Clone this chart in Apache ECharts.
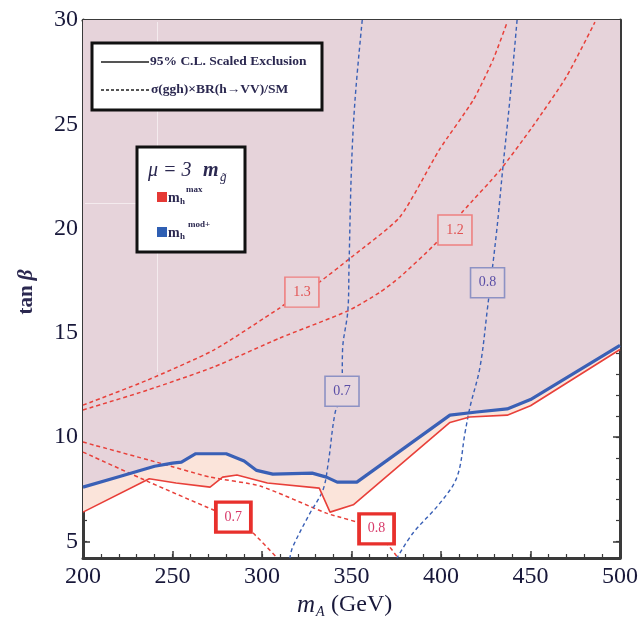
<!DOCTYPE html>
<html><head><meta charset="utf-8">
<script src="https://cdn.jsdelivr.net/npm/echarts@6/dist/echarts.min.js"></script>
<style>html,body{margin:0;padding:0;background:#fff}#c{width:643px;height:625px}</style>
</head><body><div id="c"></div>
<script>
// ---- axis ticks ----
const mATicks = [200, 250, 300, 350, 400, 450, 500];
const mAMinor = [200,210,220,230,240,250,260,270,280,290,300,310,320,330,340,350,360,370,380,390,400,410,420,430,440,450,460,470,480,490,500];
const tanbTicks = [5, 10, 15, 20, 25, 30];
const tanbMinor = [5,6,7,8,9,10,11,12,13,14,15,16,17,18,19,20,21,22,23,24,25,26,27,28,29,30];

// ---- 95% CL scaled exclusion (solid) ----
const blueExclM = [200, 220, 240, 250, 255, 263, 280, 290, 297, 306, 328, 336, 342, 353, 405, 420, 437, 450, 500];
const blueExclT = [7.6, 8.1, 8.6, 8.75, 8.8, 9.2, 9.2, 8.85, 8.4, 8.22, 8.27, 8.08, 7.84, 7.84, 11.05, 11.2, 11.35, 11.8, 14.4];
const redExclM = [200, 237, 252, 271, 278, 286, 303, 332, 338, 351, 405, 416, 437, 450, 500];
const redExclT = [6.4, 8.0, 7.8, 7.6, 8.08, 8.18, 7.8, 7.55, 6.4, 6.75, 10.7, 10.96, 11.05, 11.5, 14.2];

// ---- signal-strength contours (dashed) ----
const red07M = [200, 237, 273, 284, 295, 308.5];
const red07T = [9.28, 7.84, 6.5, 6.16, 5.4, 4.2];
const red08M = [200, 243, 271, 299, 336, 362, 376];
const red08T = [9.76, 8.75, 8.08, 7.65, 6.35, 5.63, 4.2];
const red13M = [200, 236, 273, 310, 322, 332, 350, 377, 399, 418, 429, 437];
const red13T = [11.53, 12.73, 14.17, 16.2, 16.95, 17.43, 18.63, 20.55, 23.77, 26.16, 28.08, 29.9];
const red12M = [200, 236, 273, 310, 348, 366, 377, 396, 412, 433, 451, 470, 486];
const red12T = [11.3, 12.25, 13.36, 14.75, 16.05, 16.95, 17.67, 19.2, 20.8, 22.8, 24.87, 27.27, 29.9];
const blue07M = [356, 352, 350, 348.6, 348, 345, 344.7, 340.8, 337, 334, 326.8, 317, 315.6];
const blue07T = [30, 26.2, 22.95, 18.15, 16.1, 14.17, 12.16, 11.15, 8.75, 7.45, 6.35, 4.7, 4.2];
const blue08M = [442.5, 438.5, 434.6, 431, 426, 421.8, 416.2, 413.4, 409, 399.4, 384.4, 375.4];
const blue08T = [30, 26.2, 22.95, 19.8, 16.2, 13.36, 11.44, 10.2, 8.1, 6.83, 5.4, 4.2];

// ---- contour labels ----
const redLabThickM = [284, 364];
const redLabThickT = [6.16, 5.6];
const redLabThickTxt = ['0.7', '0.8'];
const redLabThinM = [322.3, 407.8];
const redLabThinT = [16.95, 19.93];
const redLabThinTxt = ['1.3', '1.2'];
const blueLabM = [344.7, 426];
const blueLabT = [12.2, 17.4];
const blueLabTxt = ['0.7', '0.8'];

const zip = (a, b, c) => a.map((v, i) => c ? [v, b[i], c[i]] : [v, b[i]]);

const SERIF = '"Liberation Serif", "DejaVu Serif", serif';
const RED = '#e8403a', BLUE = '#3a60b6';
const FRAME = '#3a3a3a';
const INK = '#18183a';

function xAx(pos, labels) {
  return {
    type: 'value', min: 200, max: 500, position: pos,
    axisLine: { show: true, onZero: false, lineStyle: { color: FRAME, width: 3 } },
    axisTick: { show: true, inside: true, length: 7, customValues: mATicks, lineStyle: { color: FRAME, width: 1.5 } },
    axisLabel: { show: labels, customValues: mATicks, margin: 7, fontFamily: SERIF, fontSize: 24, color: INK },
    splitLine: { show: false }
  };
}
function xMinor(pos) {
  return {
    type: 'value', min: 200, max: 500, position: pos,
    axisLine: { show: false },
    axisTick: { show: true, inside: true, length: 4, customValues: mAMinor, lineStyle: { color: FRAME, width: 1.2 } },
    axisLabel: { show: false }, splitLine: { show: false }
  };
}
function yAx(pos, labels) {
  return {
    type: 'value', min: 4.2, max: 30, position: pos,
    axisLine: { show: true, onZero: false, lineStyle: { color: FRAME, width: 3 } },
    axisTick: { show: true, inside: true, length: 7, customValues: tanbTicks, lineStyle: { color: FRAME, width: 1.5 } },
    axisLabel: { show: labels, customValues: tanbTicks, margin: 5, fontFamily: SERIF, fontSize: 24, color: INK },
    splitLine: { show: false }
  };
}
function yMinor(pos) {
  return {
    type: 'value', min: 4.2, max: 30, position: pos,
    axisLine: { show: false },
    axisTick: { show: true, inside: true, length: 4, customValues: tanbMinor, lineStyle: { color: FRAME, width: 1.2 } },
    axisLabel: { show: false }, splitLine: { show: false }
  };
}

function dashed(m, t, color, w, sm) {
  return {
    type: 'line', data: zip(m, t), symbol: 'none', smooth: sm, z: 3, silent: true,
    lineStyle: { color: color, width: w, type: [4, 3] }
  };
}
function boxes(m, t, txt, fill, border, bw, tcol, size) {
  return {
    type: 'scatter', data: zip(m, t, txt), symbol: 'rect', symbolSize: size, z: 6, silent: true,
    itemStyle: { color: fill, borderColor: border, borderWidth: bw, opacity: 1 },
    label: { show: true, position: 'inside', formatter: p => p.value[2], fontFamily: SERIF, fontSize: 14, color: tcol }
  };
}

const chart = echarts.init(document.getElementById('c'), null, { renderer: 'canvas' });
chart.setOption({
  animation: false,
  backgroundColor: '#ffffff',
  grid: { left: 83, right: 23, top: 20, bottom: 67, containLabel: false },
  xAxis: [xAx('bottom', true), xMinor('bottom'), xAx('top', false), xMinor('top')],
  yAxis: [yAx('left', true), yMinor('left'), yAx('right', false), yMinor('right')],
  series: [
    { type: 'line', data: zip(redExclM, redExclT), symbol: 'none', z: 1, silent: true,
      lineStyle: { width: 0 }, areaStyle: { origin: 'end', color: '#fbe4da', opacity: 1 } },
    { type: 'line', data: zip(blueExclM, blueExclT), symbol: 'none', z: 1, silent: true,
      lineStyle: { width: 0 }, areaStyle: { origin: 'end', color: '#e6d3da', opacity: 1 } },
    dashed(red07M, red07T, RED, 1.5, 0.2),
    dashed(red08M, red08T, RED, 1.5, 0.2),
    dashed(red13M, red13T, RED, 1.5, 0.2),
    dashed(red12M, red12T, RED, 1.5, 0.2),
    dashed(blue07M, blue07T, BLUE, 1.4, 0.35),
    dashed(blue08M, blue08T, BLUE, 1.4, 0.35),
    { type: 'line', data: zip(redExclM, redExclT), symbol: 'none', z: 4, silent: true,
      lineStyle: { color: RED, width: 1.6 } },
    { type: 'line', data: zip(blueExclM, blueExclT), symbol: 'none', z: 4, silent: true,
      lineStyle: { color: BLUE, width: 3.2 } },
    boxes(redLabThickM, redLabThickT, redLabThickTxt, '#ffffff', '#e8302c', 3.5, '#d83a6a', [35, 30]),
    boxes(redLabThinM, redLabThinT, redLabThinTxt, '#ead8dd', '#ee8080', 1.5, '#e25252', [34, 30]),
    boxes(blueLabM, blueLabT, blueLabTxt, '#e6d6de', '#8d92c4', 1.5, '#5a4ea6', [34, 30])
  ],
  graphic: [
    // faint artifacts in the shaded area
    { type: 'line', z: 2, shape: { x1: 157.5, y1: 22, x2: 157.5, y2: 372 }, style: { stroke: 'rgba(255,255,255,0.55)', lineWidth: 1 } },
    { type: 'line', z: 2, shape: { x1: 85, y1: 203.5, x2: 136, y2: 203.5 }, style: { stroke: 'rgba(255,255,255,0.55)', lineWidth: 1 } },
    // legend 1
    { type: 'rect', z: 10, shape: { x: 92, y: 43, width: 230, height: 67 }, style: { fill: '#fff', stroke: '#111', lineWidth: 3 } },
    { type: 'line', z: 11, shape: { x1: 101, y1: 62, x2: 149, y2: 62 }, style: { stroke: '#555', lineWidth: 2 } },
    { type: 'text', z: 11, x: 150, y: 62, style: { text: '95% C.L. Scaled Exclusion', font: 'bold 13.5px ' + SERIF, fill: '#2b2850', textVerticalAlign: 'middle' } },
    { type: 'line', z: 11, shape: { x1: 101, y1: 90, x2: 149, y2: 90 }, style: { stroke: '#555', lineWidth: 2, lineDash: [3, 2] } },
    { type: 'text', z: 11, x: 151, y: 90, style: { text: 'σ(ggh)×BR(h→VV)/SM', font: 'bold 13.5px ' + SERIF, fill: '#2b2850', textVerticalAlign: 'middle' } },
    // legend 2
    { type: 'rect', z: 10, shape: { x: 137, y: 147, width: 108, height: 105 }, style: { fill: '#fff', stroke: '#111', lineWidth: 3 } },
    { type: 'text', z: 11, x: 148, y: 171, style: { text: 'μ = 3 ', font: 'italic 20px ' + SERIF, fill: '#2b2850', textVerticalAlign: 'middle' } },
    { type: 'text', z: 11, x: 203, y: 171, style: { text: 'm', font: 'italic bold 20px ' + SERIF, fill: '#2b2850', textVerticalAlign: 'middle' } },
    { type: 'text', z: 11, x: 220, y: 178, style: { text: 'g̃', font: 'italic 13px ' + SERIF, fill: '#2b2850', textVerticalAlign: 'middle' } },
    { type: 'rect', z: 11, shape: { x: 157, y: 192, width: 10, height: 10 }, style: { fill: '#e53935' } },
    { type: 'text', z: 11, x: 168, y: 198, style: { text: 'm', font: 'bold 14px ' + SERIF, fill: '#2b2850', textVerticalAlign: 'middle' } },
    { type: 'text', z: 11, x: 180, y: 202, style: { text: 'h', font: 'bold 9px ' + SERIF, fill: '#2b2850', textVerticalAlign: 'middle' } },
    { type: 'text', z: 11, x: 186, y: 190, style: { text: 'max', font: 'bold 9px ' + SERIF, fill: '#2b2850', textVerticalAlign: 'middle' } },
    { type: 'rect', z: 11, shape: { x: 157, y: 227, width: 10, height: 10 }, style: { fill: '#2f5fb3' } },
    { type: 'text', z: 11, x: 168, y: 233, style: { text: 'm', font: 'bold 14px ' + SERIF, fill: '#2b2850', textVerticalAlign: 'middle' } },
    { type: 'text', z: 11, x: 180, y: 237, style: { text: 'h', font: 'bold 9px ' + SERIF, fill: '#2b2850', textVerticalAlign: 'middle' } },
    { type: 'text', z: 11, x: 188, y: 225, style: { text: 'mod+', font: 'bold 9px ' + SERIF, fill: '#2b2850', textVerticalAlign: 'middle' } },
    // axis titles
    { type: 'text', z: 11, x: 27, y: 292, rotation: Math.PI / 2,
      style: { text: '{a|tan }{b|β}', textAlign: 'center', textVerticalAlign: 'middle',
        rich: { a: { font: 'bold 21px ' + SERIF, fill: '#2b2850' }, b: { font: 'italic bold 21px ' + SERIF, fill: '#2b2850' } } } },
    { type: 'text', z: 11, x: 297, y: 605, style: { text: 'm', font: 'italic 25px ' + SERIF, fill: INK, textVerticalAlign: 'middle' } },
    { type: 'text', z: 11, x: 316, y: 612, style: { text: 'A', font: 'italic 14px ' + SERIF, fill: INK, textVerticalAlign: 'middle' } },
    { type: 'text', z: 11, x: 331, y: 605, style: { text: '(GeV)', font: '24px ' + SERIF, fill: INK, textVerticalAlign: 'middle' } }
  ]
});
</script>
</body></html>
